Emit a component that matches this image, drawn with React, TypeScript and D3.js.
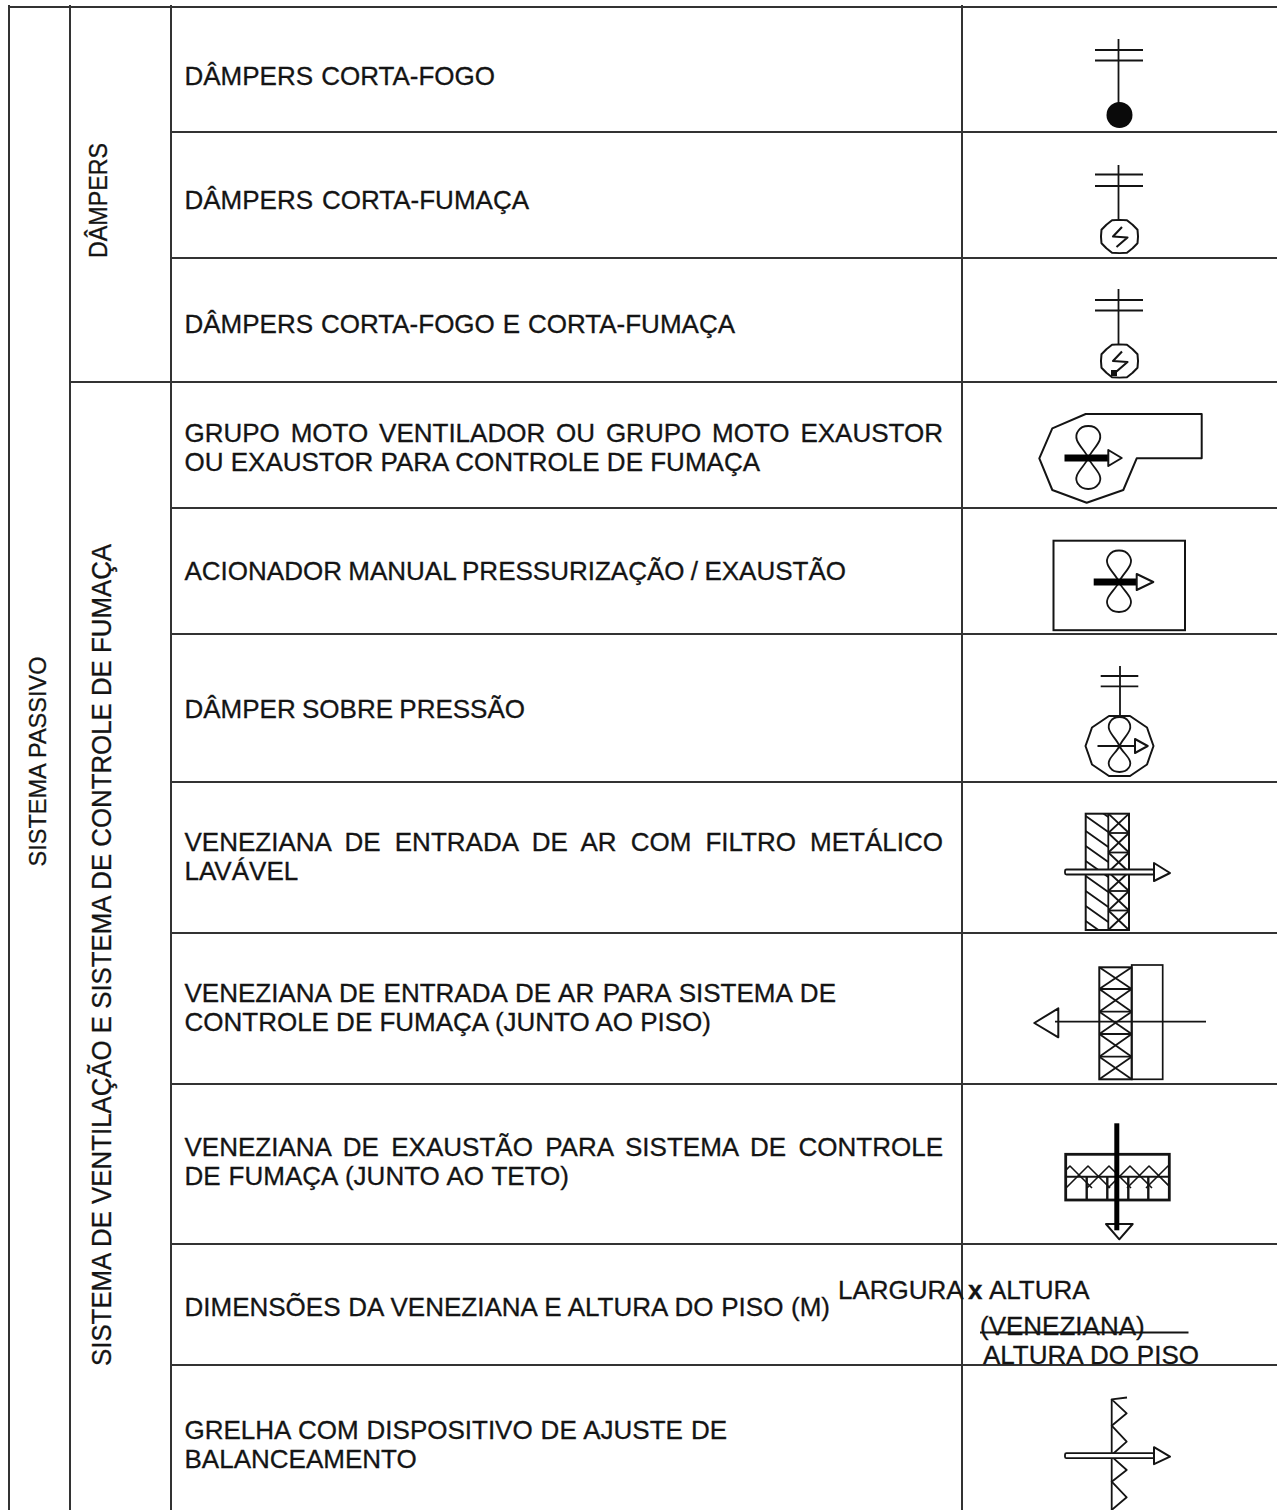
import React, { useLayoutEffect, useRef } from 'react';
import * as d3 from 'd3';

const width = 1277;
const height = 1510;

// table content
const rowKeys = ['fogo', 'fumaca', 'fogoFumaca', 'grupo', 'acionador', 'sobrePressao', 'filtro', 'piso', 'teto', 'dimensoes', 'grelha'];
const rowLabels = [
  ['DÂMPERS CORTA-FOGO'],
  ['DÂMPERS CORTA-FUMAÇA'],
  ['DÂMPERS CORTA-FOGO E CORTA-FUMAÇA'],
  ['GRUPO MOTO VENTILADOR OU GRUPO MOTO EXAUSTOR', 'OU EXAUSTOR PARA CONTROLE DE FUMAÇA'],
  ['ACIONADOR MANUAL PRESSURIZAÇÃO / EXAUSTÃO'],
  ['DÂMPER SOBRE PRESSÃO'],
  ['VENEZIANA DE ENTRADA DE AR COM FILTRO METÁLICO', 'LAVÁVEL'],
  ['VENEZIANA DE ENTRADA DE AR PARA SISTEMA DE', 'CONTROLE DE FUMAÇA (JUNTO AO PISO)'],
  ['VENEZIANA DE EXAUSTÃO PARA SISTEMA DE CONTROLE', 'DE FUMAÇA (JUNTO AO TETO)'],
  ['DIMENSÕES DA VENEZIANA E ALTURA DO PISO (M)'],
  ['GRELHA COM DISPOSITIVO DE AJUSTE DE', 'BALANCEAMENTO'],
];
const systemLabel = 'SISTEMA PASSIVO';
const damperLabel = 'DÂMPERS';
const ventLabel = 'SISTEMA DE VENTILAÇÃO E SISTEMA DE CONTROLE DE FUMAÇA';
const dimensionTop = ['LARGURA', 'x', 'ALTURA'];
const dimensionMiddle = '(VENEZIANA)';
const dimensionBottom = 'ALTURA DO PISO';

// layout
const rowEdges = [7, 132, 258, 382, 508, 634, 782, 933, 1084, 1244, 1365, 1510];
const yEdge = d3.scaleOrdinal<string, number>().domain(rowKeys).range(rowEdges.slice(1));
const columnEdges = [8.5, 70, 170.5, 961.5];
const firstBaselines = [85, 209, 333, 442, 580, 718, 851, 1002, 1156, 1316, 1439];
const lineStep = 29.3;
const lineRight = [[495], [529], [735], [943, 760], [846], [525], [943, 300], [836, 711], [943, 569], [830], [727, 417]];
const louvrePeaks = [1070, 1088, 1109, 1130, 1149, 1168];

const INK = '#141414';
const RULE = '#333';
const FONT_SIZE = 26;
const line = d3.line();
const closed = d3.line().curve(d3.curveLinearClosed);

type P = [number, number];

// wobbly round outline used on the damper symbols
const blob = (cx: number, cy: number, rx: number, ry: number, n: number) =>
  closed(d3.range(n).map((i): P => {
    const a = (i / n) * Math.PI * 2;
    const k = i % 2 ? 1 : 0.95;
    return [cx + Math.sin(a) * rx * k, cy - Math.cos(a) * ry * k];
  }));

const lobe = (cx: number, cy: number, dir: number, len: number, w: number) => {
  const p = d3.path();
  p.moveTo(cx, cy);
  p.bezierCurveTo(cx - w * 0.2, cy + dir * len * 0.3, cx - w * 0.85, cy + dir * len * 0.55, cx - w * 0.5, cy + dir * len * 0.85);
  p.bezierCurveTo(cx - w * 0.3, cy + dir * len * 1.05, cx + w * 0.3, cy + dir * len * 1.05, cx + w * 0.5, cy + dir * len * 0.85);
  p.bezierCurveTo(cx + w * 0.85, cy + dir * len * 0.55, cx + w * 0.2, cy + dir * len * 0.3, cx, cy);
  return p.toString();
};

const Stroke = ({ d, w = 1.8, fill = 'none' }: { d: string | null; w?: number; fill?: string }) => (
  <path d={d ?? ''} fill={fill} stroke={INK} strokeWidth={w} strokeLinejoin="round" />
);

const Mast = ({ x, top, bottom, y1, y2, x1 = 1095, x2 = 1143 }: any) => (
  <g>
    <Stroke d={line([[x, top], [x, bottom]])} />
    <Stroke d={line([[x1, y1], [x2, y1]])} />
    <Stroke d={line([[x1, y2], [x2, y2]])} />
  </g>
);

const Bolt = ({ cx, cy }: { cx: number; cy: number }) => (
  <Stroke w={2.1} d={line([[cx + 2.5, cy - 9.5], [cx - 6.5, cy], [cx + 8, cy + 1], [cx - 3, cy + 10.5]])} />
);

const Fan = ({ cx, cy, left, head, tip, halfHead, up, down, w = 20, bar = 7 }: any) => (
  <g>
    <Stroke d={lobe(cx, cy, -1, up, w)} />
    <Stroke d={lobe(cx, cy, 1, down, w)} />
    {bar > 2 ? (
      <rect x={left} y={cy - bar / 2} width={head - left} height={bar} fill="#000" />
    ) : (
      <Stroke d={line([[left, cy], [head, cy]])} />
    )}
    <Stroke d={closed([[head, cy - halfHead], [tip, cy], [head, cy + halfHead]])} fill="#fff" w={2} />
  </g>
);

// open shaft with a hollow head
const HollowArrow = ({ left, right, tip, cy, halfHead }: any) => (
  <g>
    <rect x={left} y={cy - 2.5} width={right - left} height={5} rx={1.5} fill="#fff" stroke={INK} strokeWidth={1.8} />
    <Stroke d={closed([[right, cy - halfHead], [tip, cy + 1], [right, cy + halfHead]])} fill="#fff" w={2} />
  </g>
);

const crossCells = (x0: number, x1: number, ys: number[]) =>
  ys.slice(1).map((y, i) => (
    <g key={y}>
      <Stroke d={line([[x0, ys[i]], [x1, y]])} />
      <Stroke d={line([[x1, ys[i]], [x0, y]])} />
      {i < ys.length - 2 && <Stroke d={line([[x0, y], [x1, y]])} />}
    </g>
  ));

const Symbols = () => (
  <g>
    {/* dampers */}
    <Mast x={1118.5} top={39} bottom={106} y1={50} y2={60.5} />
    <circle cx={1119.5} cy={115} r={13} fill="#0a0a0a" />

    <Mast x={1118.5} top={165} bottom={219} y1={174.5} y2={186} />
    <Stroke w={2} d={blob(1119.5, 236.5, 19.5, 17.5, 16)} />
    <Bolt cx={1119.5} cy={236.5} />

    <Mast x={1118.5} top={289} bottom={344} y1={300} y2={310.5} />
    <Stroke w={2} d={blob(1119.5, 361, 19.5, 17.5, 16)} />
    <Bolt cx={1119.5} cy={361} />
    <rect x={1111} y={370} width={6} height={6} fill="#111" />

    {/* fan casing */}
    <Stroke
      w={2}
      d={closed([[1085.7, 414], [1201.7, 414], [1201.7, 458.3], [1136.7, 458.3], [1123.3, 490], [1086.7, 502.7], [1052.3, 490], [1039.3, 458.3], [1052.3, 428.3]])}
    />
    <Fan cx={1088.3} cy={458} left={1064.5} head={1108.3} tip={1121.7} halfHead={8} up={32} down={31} />

    <rect x={1053.5} y={540.7} width={131.5} height={89.5} fill="none" stroke={INK} strokeWidth={2} />
    <Fan cx={1119} cy={582} left={1093.7} head={1136.7} tip={1153.3} halfHead={8} up={31.5} down={30} />

    {/* pressure damper */}
    <Mast x={1120} top={666} bottom={715} y1={676} y2={686.3} x1={1100.7} x2={1138.3} />
    <Stroke w={2} d={blob(1119.5, 746, 34, 31.5, 20)} />
    <Fan cx={1119.5} cy={746} left={1097.5} head={1135} tip={1147.7} halfHead={7} up={29} down={26} w={18} bar={1.6} />

    {/* louvre with metal filter */}
    <clipPath id="hatchClip">
      <rect x={1085.7} y={813.7} width={22.6} height={116.3} />
    </clipPath>
    <g clipPath="url(#hatchClip)">
      {[801, 816, 831, 846, 861, 876, 891, 906, 921].map((y) => (
        <Stroke key={y} d={line([[1085.7, y], [1108.3, y + 16]])} />
      ))}
    </g>
    {crossCells(1108.3, 1129, [813.7, 833, 852.5, 872, 891, 910.5, 930])}
    <rect x={1085.7} y={813.7} width={43.3} height={116.3} fill="none" stroke={INK} strokeWidth={2} />
    <Stroke d={line([[1108.3, 813.7], [1108.3, 930]])} />
    <HollowArrow left={1065} right={1154} tip={1170} cy={872} halfHead={9} />

    {/* louvre at floor level */}
    {crossCells(1099.3, 1131.7, [967.3, 989, 1011.7, 1034, 1056.7, 1079.3])}
    <rect x={1099.3} y={967.3} width={32.4} height={112} fill="none" stroke={INK} strokeWidth={2} />
    <rect x={1131.7} y={965} width={31} height={114.3} fill="none" stroke={INK} strokeWidth={1.7} />
    <Stroke d={line([[1055, 1021.7], [1206, 1021.7]])} />
    <Stroke d={closed([[1058.3, 1008.3], [1034.3, 1023], [1058.3, 1037.3]])} w={2} />

    {/* louvre at ceiling level */}
    <clipPath id="ceilingClip">
      <rect x={1065.7} y={1154.3} width={103.6} height={38} />
    </clipPath>
    <g clipPath="url(#ceilingClip)">
      {louvrePeaks.map((px) => (
        <Stroke key={px} w={1.6} d={line([[px - 22, 1188], [px, 1166], [px + 22, 1188]])} />
      ))}
    </g>
    {[1086.7, 1107.3, 1128.3, 1148.3].map((x) => (
      <Stroke key={x} d={line([[x, 1176.7], [x, 1200]])} w={2.4} />
    ))}
    <rect x={1065.7} y={1154.3} width={103.6} height={45.7} fill="none" stroke={INK} strokeWidth={2.8} />
    <Stroke w={2} d={line([[1065.7, 1176.7], [1169.3, 1176.7]])} />
    <Stroke d={closed([[1106, 1224], [1132.7, 1224], [1119.3, 1239.3]])} w={2} />
    <rect x={1114.3} y={1123.3} width={5} height={107} fill="#000" />

    {/* grille */}
    <Stroke d={line([[1111.7, 1399], [1111.7, 1510]])} />
    <Stroke d={line([[1127, 1397.5], [1111.7, 1399.3], [1126.7, 1413.3], [1111.7, 1425.7], [1126.7, 1441.7], [1111.7, 1455]])} />
    <Stroke d={line([[1111.7, 1456.7], [1126.7, 1470], [1111.7, 1481.7], [1126.7, 1497.3], [1111.7, 1510]])} />
    <HollowArrow left={1065} right={1154} tip={1170} cy={1455.7} halfHead={8.5} />
  </g>
);

export default function App() {
  const ref = useRef<SVGSVGElement>(null);

  // the source text is justified, so spread each line over its measured width
  useLayoutEffect(() => {
    d3.select(ref.current)
      .selectAll<SVGTextElement, unknown>('text[data-w]')
      .each(function () {
        const gaps = (this.textContent ?? '').split(' ').length - 1;
        if (!gaps) return;
        const target = +(this.dataset.w ?? 0);
        this.setAttribute('word-spacing', String((target - this.getComputedTextLength()) / gaps));
      });
  }, []);

  return (
    <svg
      ref={ref}
      width={width}
      height={height}
      style={{ position: 'absolute', left: 0, top: 0, background: '#fff' }}
      fontFamily="'Liberation Sans', Arial, sans-serif"
      fill={INK}
      stroke="none"
    >
      {/* rules */}
      <g stroke={RULE} strokeWidth={2} shapeRendering="crispEdges">
        <line x1={8} x2={width} y1={rowEdges[0]} y2={rowEdges[0]} />
        {columnEdges.map((x) => (
          <line key={x} x1={x} x2={x} y1={5} y2={height} />
        ))}
        {rowKeys.slice(0, -1).map((k) => (
          <line key={k} x1={k === 'fogoFumaca' ? columnEdges[1] : columnEdges[2]} x2={width} y1={yEdge(k)} y2={yEdge(k)} />
        ))}
      </g>

      <g stroke={INK} strokeWidth={0.3}>
        {/* side headings, squeezed along their length in the source */}
        <text transform="translate(46,866.5) rotate(-90)" fontSize={24.5} textLength={210} lengthAdjust="spacingAndGlyphs">{systemLabel}</text>
        <text transform="translate(107,258) rotate(-90)" fontSize={26} textLength={115} lengthAdjust="spacingAndGlyphs">{damperLabel}</text>
        <text transform="translate(111,1366) rotate(-90)" fontSize={27.5} textLength={822} lengthAdjust="spacingAndGlyphs">{ventLabel}</text>

        {/* row labels */}
        {rowLabels.map((lines, i) =>
          lines.map((t, j) => (
            <text key={t} x={184.5} y={firstBaselines[i] + j * lineStep} fontSize={FONT_SIZE} data-w={lineRight[i][j] - 184.5}>
              {t}
            </text>
          ))
        )}

        {/* dimension note */}
        <text x={838} y={1299} fontSize={FONT_SIZE}>{dimensionTop[0]}</text>
        <text x={968} y={1299} fontSize={FONT_SIZE} fontWeight="bold">{dimensionTop[1]}</text>
        <text x={989} y={1299} fontSize={FONT_SIZE}>{dimensionTop[2]}</text>
        <text x={980} y={1335} fontSize={FONT_SIZE}>{dimensionMiddle}</text>
        <text x={983} y={1364} fontSize={FONT_SIZE} data-w={216}>{dimensionBottom}</text>
      </g>
      <line x1={980} x2={1188.5} y1={1332.5} y2={1332.5} stroke={INK} strokeWidth={1.8} />

      <Symbols />
    </svg>
  );
}
